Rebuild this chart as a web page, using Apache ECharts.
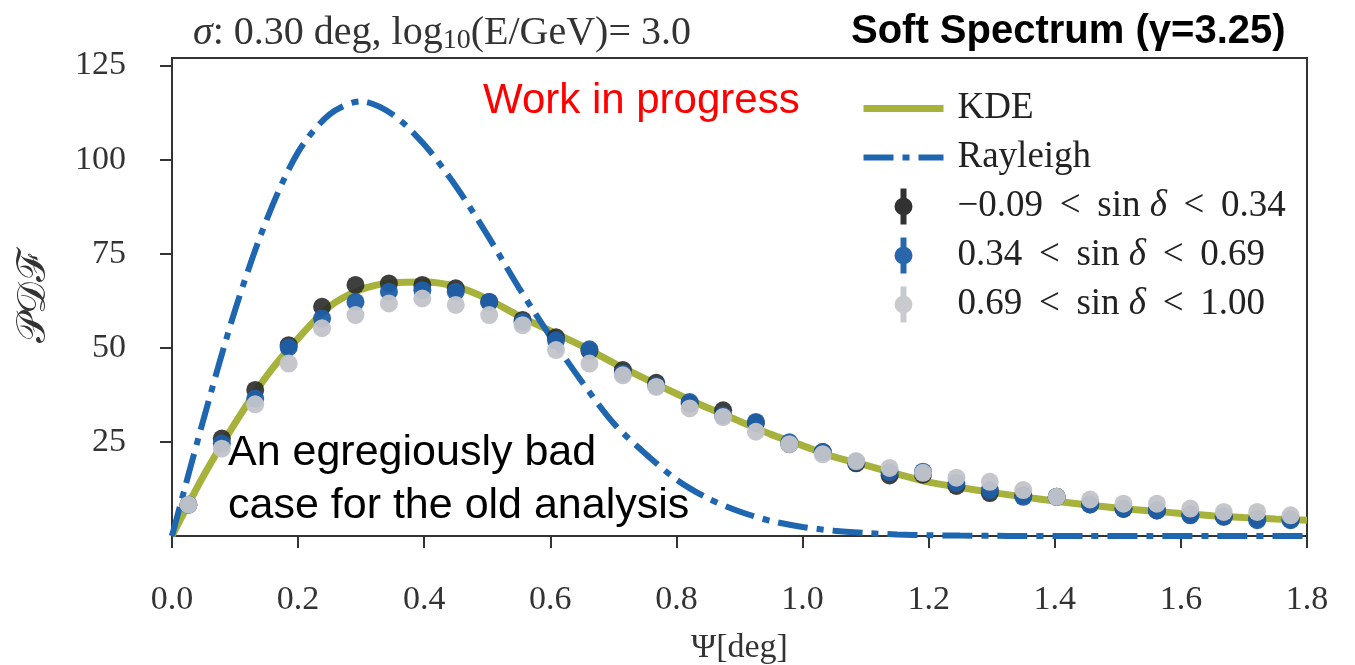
<!DOCTYPE html>
<html>
<head>
<meta charset="utf-8">
<script src="https://cdn.jsdelivr.net/npm/echarts@6/dist/echarts.min.js"></script>
<style>
  html, body { margin: 0; padding: 0; background: #fff; }
  #chart { width: 1355px; height: 665px; }
</style>
</head>
<body>
<div id="chart"></div>
<script>
// bin centres of the histogram points (deg)
const binX = [0.026, 0.079, 0.132, 0.185, 0.238, 0.291, 0.344, 0.397, 0.450, 0.503,
  0.556, 0.609, 0.662, 0.715, 0.768, 0.821, 0.874, 0.926, 0.979, 1.032,
  1.085, 1.138, 1.191, 1.244, 1.297, 1.350, 1.403, 1.456, 1.509, 1.562,
  1.615, 1.668, 1.721, 1.774];

const band1 = [8.3, 25.9, 38.8, 50.7, 60.9, 66.7, 67.1, 66.7, 65.8, 62.2,
  57.4, 52.8, 49.2, 44.1, 40.7, 35.2, 33.4, 30.0, 24.4, 22.3,
  19.3, 16.1, 16.3, 13.3, 11.4, 10.8, 10.4, 8.4, 7.2, 6.8,
  5.7, 5.2, 4.6, 4.4];
const band2 = [8.3, 24.6, 36.5, 50.1, 57.8, 62.2, 64.9, 65.3, 64.9, 62.2,
  56.9, 52.0, 49.6, 43.2, 39.9, 35.6, 32.0, 30.3, 24.9, 22.3,
  19.7, 17.0, 17.1, 14.1, 12.2, 10.4, 10.4, 8.4, 7.3, 6.8,
  5.5, 5.1, 4.2, 4.2];
const band3 = [8.3, 23.2, 35.0, 45.8, 55.2, 58.7, 61.8, 63.1, 61.4, 58.7,
  56.0, 49.4, 45.8, 42.7, 39.6, 33.9, 31.6, 27.7, 24.4, 21.7,
  19.9, 18.1, 16.8, 15.5, 14.4, 12.2, 10.4, 9.7, 8.6, 8.6,
  7.3, 6.4, 6.4, 5.5];

// smooth curves sampled every 0.05 deg
const curveX = [0, 0.05, 0.1, 0.15, 0.2, 0.25, 0.3, 0.35, 0.4, 0.45,
  0.5, 0.55, 0.6, 0.65, 0.7, 0.75, 0.8, 0.85, 0.9, 0.95,
  1.0, 1.05, 1.1, 1.15, 1.2, 1.25, 1.3, 1.35, 1.4, 1.45,
  1.5, 1.55, 1.6, 1.65, 1.7, 1.75, 1.8];
const kde = [0, 16, 30, 42.5, 52.5, 61, 65.5, 67.3, 67.5, 66.3,
  63, 58.5, 54.5, 50.5, 46, 41.8, 37.8, 34, 30.5, 27,
  24, 21, 18.8, 16.5, 14.3, 12.9, 11.6, 10.4, 9.3, 8.3,
  7.4, 6.7, 6.0, 5.4, 4.9, 4.5, 4.2];
const rayleigh = [0, 31, 60, 84, 102, 112, 115.5, 112, 104, 93,
  80, 66, 53, 41, 30, 22, 15, 10, 6.5, 4,
  2.4, 1.4, 0.8, 0.4, 0.2, 0.1, 0.05, 0, 0, 0,
  0, 0, 0, 0, 0, 0, 0];

const xTicks = [0, 0.2, 0.4, 0.6, 0.8, 1.0, 1.2, 1.4, 1.6, 1.8];
const yTicks = [25, 50, 75, 100, 125];

const sp = ' \u2009';
const legendText = {
  KDE: 'KDE',
  Rayleigh: 'Rayleigh',
  b1: '−0.09' + sp + '<' + sp + 'sin {i|δ}' + sp + '<' + sp + '0.34',
  b2: '0.34' + sp + '<' + sp + 'sin {i|δ}' + sp + '<' + sp + '0.69',
  b3: '0.69' + sp + '<' + sp + 'sin {i|δ}' + sp + '<' + sp + '1.00'
};

const serif = '"Liberation Serif", "DejaVu Serif", serif';
const olive = '#a6b23b';
const blue = '#1f66b1';
const dashDot = [30, 9, 7, 9];
const pointIcon = 'path://M6,0H12V36H6Z M0,18A9,9 0 1,1 18,18A9,9 0 1,1 0,18Z';
const noDot = { color: 'rgba(0,0,0,0)', borderWidth: 0, opacity: 0 };

const pairs = (xs, ys) => xs.map((x, i) => [x, ys[i]]);

const chart = echarts.init(document.getElementById('chart'));

chart.setOption({
  animation: false,
  backgroundColor: '#fff',
  title: [{
    text: '{i|σ}: 0.30 deg, log{sub|10}(E/GeV)= 3.0',
    left: 188,
    top: 7,
    textStyle: {
      fontFamily: serif, fontSize: 40, fontWeight: 'normal', color: '#333',
      rich: {
        i: { fontFamily: serif, fontSize: 40, fontStyle: 'italic', color: '#333' },
        sub: { fontFamily: serif, fontSize: 28, color: '#333', verticalAlign: 'bottom', padding: [15, 0, 0, 0] }
      }
    }
  }, {
    text: 'Soft Spectrum (γ=3.25)',
    left: 846,
    top: 7,
    textStyle: { fontFamily: '"Liberation Sans", Arial, sans-serif', fontSize: 40, fontWeight: 'bold', color: '#000' }
  }],
  legend: {
    orient: 'vertical',
    left: 855,
    top: 85,
    itemWidth: 80,
    itemHeight: 36,
    itemGap: 12,
    data: [
      { name: 'KDE', lineStyle: { color: olive, width: 7 }, itemStyle: noDot },
      { name: 'Rayleigh', lineStyle: { color: blue, width: 6, type: dashDot }, itemStyle: noDot },
      { name: 'b1', icon: pointIcon, itemStyle: { color: '#1c1c1c' } },
      { name: 'b2', icon: pointIcon, itemStyle: { color: '#1f5ea8' } },
      { name: 'b3', icon: pointIcon, itemStyle: { color: '#c6c7cb' } }
    ],
    formatter: n => legendText[n],
    textStyle: {
      fontFamily: serif, fontSize: 37, color: '#222', lineHeight: 36,
      padding: [0, 0, 0, 9],
      rich: { i: { fontFamily: serif, fontSize: 37, fontStyle: 'italic', color: '#222' } }
    }
  },
  grid: {
    left: 172, right: 48, top: 58, bottom: 129,
    outerBoundsMode: 'none',
    show: true, borderColor: '#333', borderWidth: 2
  },
  xAxis: {
    type: 'value',
    min: 0, max: 1.8, interval: 0.2,
    name: 'Ψ[deg]',
    nameLocation: 'middle',
    nameGap: 95,
    nameTextStyle: { fontFamily: serif, fontSize: 34, color: '#333' },
    axisLine: { show: true, lineStyle: { color: '#333', width: 2 } },
    axisTick: { show: true, length: 12, customValues: xTicks, lineStyle: { color: '#333', width: 2 } },
    axisLabel: {
      customValues: xTicks,
      margin: 47,
      fontFamily: serif, fontSize: 34, color: '#333',
      formatter: v => v.toFixed(1)
    },
    splitLine: { show: false }
  },
  yAxis: {
    type: 'value',
    min: 0, max: 127,
    name: '𝒫𝒟ℱ',
    nameLocation: 'middle',
    nameGap: 118,
    nameTextStyle: { fontFamily: serif, fontSize: 40, color: '#333' },
    axisLine: { show: true, lineStyle: { color: '#333', width: 2 } },
    axisTick: { show: true, length: 12, customValues: yTicks, lineStyle: { color: '#333', width: 2 } },
    axisLabel: {
      customValues: yTicks,
      margin: 46,
      fontFamily: serif, fontSize: 34, color: '#333'
    },
    splitLine: { show: false }
  },
  series: [{
    name: 'KDE',
    type: 'line',
    data: pairs(curveX, kde),
    smooth: 0.3,
    symbol: 'none',
    lineStyle: { color: olive, width: 7 },
    itemStyle: { color: olive },
    z: 2
  }, {
    name: 'Rayleigh',
    type: 'line',
    data: pairs(curveX, rayleigh),
    smooth: 0.3,
    symbol: 'none',
    lineStyle: { color: blue, width: 6, type: dashDot },
    itemStyle: { color: blue },
    z: 3
  }, {
    name: 'b1',
    type: 'scatter',
    data: pairs(binX, band1),
    symbolSize: 18,
    itemStyle: { color: '#2a2a2a', opacity: 0.9 },
    z: 4
  }, {
    name: 'b2',
    type: 'scatter',
    data: pairs(binX, band2),
    symbolSize: 18,
    itemStyle: { color: '#1f5ea8', opacity: 0.95 },
    z: 5
  }, {
    name: 'b3',
    type: 'scatter',
    data: pairs(binX, band3),
    symbolSize: 18,
    itemStyle: { color: '#c3c4ca', opacity: 0.95 },
    z: 6
  }],
  graphic: [{
    type: 'text',
    left: 483,
    top: 80,
    style: { text: 'Work in progress', fill: '#ff0000', font: '42px "Liberation Sans", Arial, sans-serif' },
    z: 10
  }, {
    type: 'text',
    left: 228,
    top: 427,
    style: {
      text: 'An egregiously bad\ncase for the old analysis',
      fill: '#000',
      font: '43px "Liberation Sans", Arial, sans-serif',
      lineHeight: 53
    },
    z: 10
  }]
});
</script>
</body>
</html>
